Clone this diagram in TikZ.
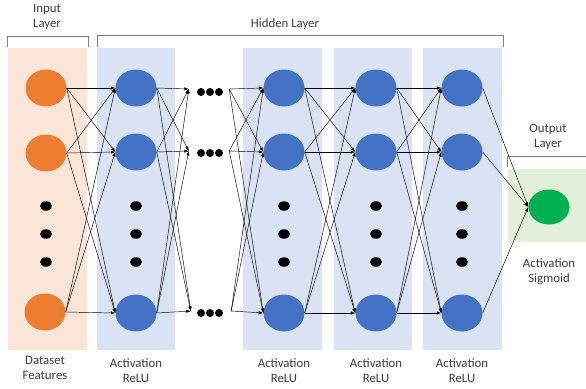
\documentclass[tikz,border=0pt]{standalone}
\usepackage{fontspec}
\setmainfont{Carlito}
\usetikzlibrary{shapes.geometric,arrows.meta}

\definecolor{inorange}{HTML}{ED7D31}
\definecolor{hidblue}{HTML}{4472C4}
\definecolor{outgreen}{HTML}{00B050}
\definecolor{peachbg}{HTML}{FBE5D6}
\definecolor{bluebg}{HTML}{DAE3F3}
\definecolor{greenbg}{HTML}{E2F0D9}
\definecolor{bracketgray}{HTML}{7F7F7F}
\definecolor{labelgray}{HTML}{3A3A3A}

\tikzset{
  neuron/.style={ellipse, draw=none, minimum width=41pt, minimum height=37pt, inner sep=0pt},
  inneuron/.style={neuron, fill=inorange},
  hidneuron/.style={neuron, fill=hidblue},
  outneuron/.style={neuron, fill=outgreen, minimum height=35pt},
  vdot/.style={ellipse, fill=black, minimum width=12pt, minimum height=9.5pt, inner sep=0pt},
  hdot/.style={circle, fill=black, minimum size=8pt, inner sep=0pt},
  gap/.style={rectangle, minimum width=40pt, minimum height=8pt, inner sep=0pt},
  link/.style={black, line width=0.45pt, -{Latex[length=4.5pt,width=3.2pt]}},
  bracket/.style={bracketgray, line width=0.8pt},
  caption/.style={text=labelgray, align=center, font=\fontsize{12.8}{15}\selectfont, inner sep=0pt},
}

\begin{document}
\begin{tikzpicture}[x=1pt, y=-1pt]
\useasboundingbox (0,0) rectangle (586,388);

% layer backgrounds
\fill[peachbg] (8,48) rectangle (87,350);
\fill[bluebg] (97,48) rectangle (175,350);
\fill[bluebg] (243,48) rectangle (322,350);
\fill[bluebg] (334,48) rectangle (412,350);
\fill[bluebg] (423,48) rectangle (502,350);
\fill[greenbg] (508,169) rectangle (586,242);

% brackets above the layers
\draw[bracket] (7,47) -- (7,36) -- (88,36) -- (88,47);
\draw[bracket] (97,47) -- (97,35) -- (503,35) -- (503,47);
\draw[bracket] (507,167) -- (507,156) -- (586,156);

% captions
\node[caption] (tin) at (47,17) {Input\\Layer};
\node[caption] (thid) at (285,24) {Hidden Layer};
\node[caption] (tout) at (548,136.5) {Output\\Layer};
\node[caption] (tsig) at (549,271.5) {Activation\\Sigmoid};
\node[caption] (tds) at (45,368) {Dataset\\Features};
\node[caption] (t1) at (136,370.5) {Activation\\ReLU};
\node[caption] (t2) at (284,370.5) {Activation\\ReLU};
\node[caption] (t3) at (376,370.5) {Activation\\ReLU};
\node[caption] (t4) at (462,370.5) {Activation\\ReLU};

% neurons
\node[inneuron] (i1) at (46,88) {};
\node[inneuron] (i2) at (46,153) {};
\node[inneuron] (i3) at (45,312) {};
\foreach \c/\x in {a/136, b/284, c/376, d/462} {
  \node[hidneuron] (\c1) at (\x,88) {};
  \node[hidneuron] (\c2) at (\x,152) {};
  \node[hidneuron] (\c3) at (\x,313) {};
}
\node[outneuron] (o) at (549,207) {};

% vertical ellipsis dots in each column
\foreach \x [count=\k] in {46, 136, 284, 376, 462} {
  \node[vdot] (v\k a) at (\x,206) {};
  \node[vdot] (v\k b) at (\x,234) {};
  \node[vdot] (v\k c) at (\x,262) {};
}

% horizontal ellipsis groups standing for further hidden layers
\node[gap] (g1) at (209,89) {};
\node[gap] (g2) at (209,151) {};
\node[gap] (g3) at (211,311) {};
\foreach \g/\y in {g1/92, g2/153, g3/313} {
  \node[hdot] (\g x) at (201,\y) {};
  \node[hdot] (\g y) at (210,\y) {};
  \node[hdot] (\g z) at (219,\y) {};
}

% connections
\foreach \s in {i1,i2,i3} \foreach \t in {a1,a2,a3} \draw[link] (\s.east) -- (\t.west);
\foreach \s in {a1,a2,a3} \foreach \t in {g1,g2,g3} \draw[link] (\s.east) -- (\t.west);
\foreach \s in {g1,g2,g3} \foreach \t in {b1,b2,b3} \draw[link] (\s.east) -- (\t.west);
\foreach \s in {b1,b2,b3} \foreach \t in {c1,c2,c3} \draw[link] (\s.east) -- (\t.west);
\foreach \s in {c1,c2,c3} \foreach \t in {d1,d2,d3} \draw[link] (\s.east) -- (\t.west);
\foreach \s in {d1,d2,d3} \draw[link] (\s.east) -- (o.west);
\end{tikzpicture}
\end{document}
